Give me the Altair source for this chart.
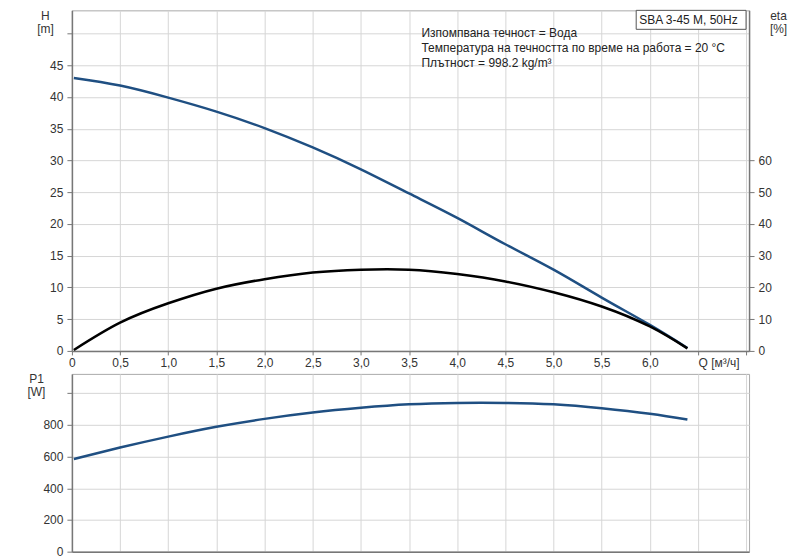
import altair as alt
import pandas as pd

# ---- data ----
Q = [0.02, 0.5, 1.0, 1.5, 2.0, 2.5, 3.0, 3.5, 4.0, 4.5, 5.0, 5.5, 6.0, 6.39]
H = [43.0, 41.8, 39.9, 37.7, 35.1, 32.05, 28.6, 24.8, 20.95, 16.8, 12.8, 8.4, 4.1, 0.45]
ETA = [0.3, 8.9, 15.0, 19.6, 22.6, 24.7, 25.6, 25.6, 24.2, 21.9, 18.5, 14.0, 7.7, 0.8]
P1 = [585, 657, 726, 788, 838, 878, 908, 930, 939, 939, 930, 905, 870, 834]

X_TICKS = [0, 0.5, 1.0, 1.5, 2.0, 2.5, 3.0, 3.5, 4.0, 4.5, 5.0, 5.5, 6.0, 6.5, 7.0]
H_TICKS = [0, 5, 10, 15, 20, 25, 30, 35, 40, 45, 50]
ETA_TICKS = [0, 10, 20, 30, 40, 50, 60]
P1_TICKS = [0, 200, 400, 600, 800, 1000]

INFO_LINES = [
    "Изпомпвана течност = Вода",
    "Температура на течността по време на работа = 20 °C",
    "Плътност = 998.2 kg/m³",
]
LEGEND = "SBA 3-45 M, 50Hz"
X_UNIT = "Q [м³/ч]"

BLUE = "#1f4f82"
FONT = "Liberation Sans"
FS = 12

df = pd.DataFrame({"Q": Q, "H": H, "eta": ETA, "P1": P1})
one = pd.DataFrame({"k": [0]})

W = 678
xscale = alt.Scale(domain=[0, 7.03], nice=False, zero=False)

x_label_expr = (
    "datum.value == 6.5 ? '" + X_UNIT + "' : datum.value > 6.5 ? '' : "
    "datum.value == 0 ? '0' : replace(format(datum.value, '.1f'), '.', ',')"
)

x_top = alt.X(
    "Q:Q", scale=xscale,
    axis=alt.Axis(values=X_TICKS, grid=True, title=None, labelExpr=x_label_expr,
                  labelFlush=False, labelOverlap=False, tickSize=4, labelPadding=3,
                  labelAlign={"condition": {"test": "datum.value == 6.5", "value": "left"},
                              "value": "center"}),
)

h_line = alt.Chart(df).mark_line(color=BLUE, strokeWidth=2.5, interpolate="natural").encode(
    x=x_top,
    y=alt.Y("H:Q", scale=alt.Scale(domain=[0, 53.65], nice=False, zero=False),
            axis=alt.Axis(values=H_TICKS, grid=True, tickSize=5, labelPadding=4,
                          labelExpr="datum.value >= 50 ? '' : datum.label",
                          title=["H", "[m]"], titleAngle=0, titleX=-27, titleY=0,
                          titleAlign="center", titleBaseline="top")),
)

eta_line = alt.Chart(df).mark_line(color="black", strokeWidth=2.5, interpolate="natural").encode(
    x=x_top,
    y=alt.Y("eta:Q", scale=alt.Scale(domain=[0, 107.3], nice=False, zero=False),
            axis=alt.Axis(orient="right", values=ETA_TICKS, grid=False, tickSize=5,
                          labelPadding=4, title=["eta", "[%]"], titleAngle=0,
                          titleX=29, titleY=0, titleAlign="center", titleBaseline="top")),
)

info = alt.Chart(one).mark_text(
    align="left", baseline="top", font=FONT, fontSize=FS, color="#222", lineHeight=14.7
).encode(x=alt.value(350), y=alt.value(18), text=alt.value(INFO_LINES))

box = alt.Chart(one).mark_rect(fill="white", stroke="#555", strokeWidth=1).encode(
    x=alt.value(565), x2=alt.value(675), y=alt.value(0), y2=alt.value(19)
)
box_text = alt.Chart(one).mark_text(
    align="left", baseline="middle", font=FONT, fontSize=FS, color="#222"
).encode(x=alt.value(568), y=alt.value(10), text=alt.value(LEGEND))

anchor = alt.Chart(one).mark_rule(color="white", strokeOpacity=0).encode(
    x=alt.value(-62.7), y=alt.value(0), y2=alt.value(5)
)

top = alt.layer(h_line, eta_line, info, box, box_text, anchor).resolve_scale(
    y="independent"
).properties(width=W, height=341)

bottom = alt.Chart(df).mark_line(color=BLUE, strokeWidth=2.5, interpolate="natural").encode(
    x=alt.X("Q:Q", scale=xscale,
            axis=alt.Axis(values=X_TICKS, grid=True, labels=False, ticks=False, title=None)),
    y=alt.Y("P1:Q", scale=alt.Scale(domain=[0, 1122], nice=False, zero=False),
            axis=alt.Axis(values=P1_TICKS, grid=True, tickSize=5, labelPadding=4,
                          labelExpr="datum.value >= 1000 ? '' : datum.label",
                          title=["P1", "[W]"], titleAngle=0, titleX=-36, titleY=0,
                          titleAlign="center", titleBaseline="top")),
).properties(width=W, height=178)

chart = alt.vconcat(top, bottom, spacing=23, bounds="flush").properties(
    padding={"left": 0, "top": 0, "right": 4, "bottom": 0}
).configure_axis(
    labelFont=FONT, labelFontSize=FS, labelColor="#333",
    titleFont=FONT, titleFontSize=FS, titleFontWeight="normal", titleColor="#333",
    titleLineHeight=13,
    domainColor="#777", domainWidth=1.5, tickColor="#777", tickWidth=1,
    gridColor="#d6d6d6", gridWidth=1,
).configure_view(stroke="#aaaaaa", strokeWidth=1)

chart.save("out.html", embed_options={"renderer": "svg", "actions": False})
